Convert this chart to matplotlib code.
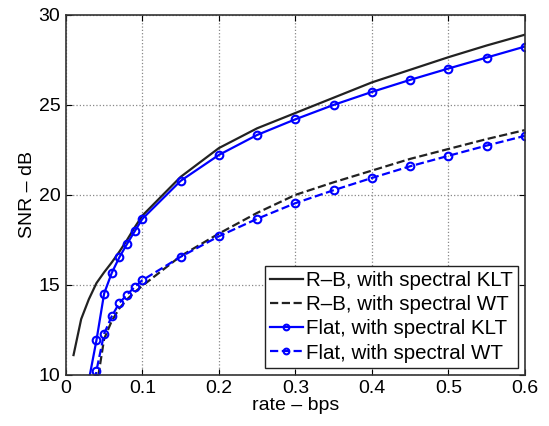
import matplotlib
matplotlib.use("Agg")
import matplotlib.pyplot as plt

plt.rcParams['font.family'] = ['Liberation Sans', 'DejaVu Sans']

# R-B, spectral KLT (black solid)
rb_klt_rate = [0.01, 0.02, 0.03, 0.04, 0.05, 0.06, 0.07, 0.08, 0.09, 0.1,
               0.15, 0.2, 0.25, 0.3, 0.35, 0.4, 0.45, 0.5, 0.55, 0.6]
rb_klt_snr = [11.1, 13.1, 14.2, 15.1, 15.7, 16.25, 16.85, 17.5, 18.2, 18.85,
              21.0, 22.6, 23.7, 24.55, 25.4, 26.25, 26.95, 27.65, 28.3, 28.9]

# R-B, spectral WT (black dashed)
rb_wt_rate = [0.04, 0.05, 0.06, 0.07, 0.08, 0.09, 0.1, 0.15, 0.2, 0.25,
              0.3, 0.35, 0.4, 0.45, 0.5, 0.55, 0.6]
rb_wt_snr = [9.3, 12.0, 13.0, 13.7, 14.2, 14.6, 14.95, 16.6, 17.85, 19.0,
             20.0, 20.7, 21.35, 22.0, 22.55, 23.1, 23.6]

# Flat, spectral KLT (blue solid, circles)
flat_klt_rate = [0.03, 0.04, 0.05, 0.06, 0.07, 0.08, 0.09, 0.1, 0.15, 0.2,
                 0.25, 0.3, 0.35, 0.4, 0.45, 0.5, 0.55, 0.6]
flat_klt_snr = [9.7, 11.93, 14.52, 15.67, 16.54, 17.28, 17.98, 18.67, 20.78, 22.22,
                23.33, 24.2, 25.0, 25.72, 26.39, 27.02, 27.63, 28.24]

# Flat, spectral WT (blue dashed, circles)
flat_wt_rate = [0.03, 0.04, 0.05, 0.06, 0.07, 0.08, 0.09, 0.1, 0.15, 0.2,
                0.25, 0.3, 0.35, 0.4, 0.45, 0.5, 0.55, 0.6]
flat_wt_snr = [6.5, 10.24, 12.29, 13.26, 14.0, 14.46, 14.89, 15.26, 16.56, 17.7,
               18.67, 19.54, 20.26, 20.94, 21.59, 22.17, 22.74, 23.28]

fig = plt.figure(figsize=(5.49, 4.26), dpi=100)
ax = fig.add_axes([0.120, 0.120, 0.836, 0.845])

ax.plot(rb_klt_rate, rb_klt_snr, color='#222222', linestyle='-', linewidth=1.6,
        label='R\u2013B, with spectral KLT')
ax.plot(rb_wt_rate, rb_wt_snr, color='#222222', linestyle='--', linewidth=1.6,
        label='R\u2013B, with spectral WT')
ax.plot(flat_klt_rate, flat_klt_snr, color='#0000ff', linestyle='-', linewidth=1.6,
        marker='o', markersize=5.5, markerfacecolor='none', markeredgewidth=1.5,
        label='Flat, with spectral KLT')
ax.plot(flat_wt_rate, flat_wt_snr, color='#0000ff', linestyle='--', linewidth=1.6,
        marker='o', markersize=5.5, markerfacecolor='none', markeredgewidth=1.5,
        label='Flat, with spectral WT')

ax.set_xlim(0, 0.6)
ax.set_ylim(10, 30)
ax.set_xticks([0, 0.1, 0.2, 0.3, 0.4, 0.5, 0.6])
ax.set_xticklabels(['0', '0.1', '0.2', '0.3', '0.4', '0.5', '0.6'])
ax.set_yticks([10, 15, 20, 25, 30])
ax.tick_params(direction='in', labelsize=14, length=4, pad=4, top=True, right=True)
ax.grid(True, linestyle=':', color='#888888', linewidth=0.9)
for sp in ax.spines.values():
    sp.set_color('#333333')
    sp.set_linewidth(1.2)

ax.set_xlabel('rate \u2013 bps', fontsize=14, labelpad=0)
ax.set_ylabel('SNR \u2013 dB', fontsize=14, labelpad=2)

leg = ax.legend(loc='lower right', fontsize=14.8, handlelength=1.6, handletextpad=0.15,
                borderpad=0.25, labelspacing=0.25, fancybox=False, framealpha=1,
                borderaxespad=0.35, markerscale=0.75)
leg.get_frame().set_edgecolor('#222222')
leg.get_frame().set_linewidth(1.0)

fig.savefig('out.png', dpi=100)
